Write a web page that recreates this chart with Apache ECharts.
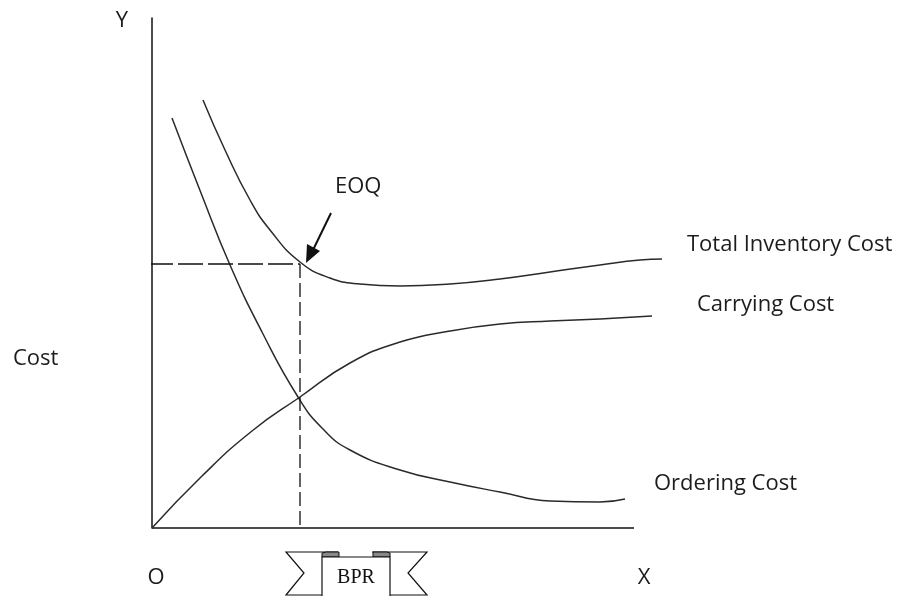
<!DOCTYPE html>
<html><head><meta charset="utf-8">
<script src="https://cdn.jsdelivr.net/npm/echarts@6/dist/echarts.min.js"></script>
<style>html,body{margin:0;padding:0;background:#fff}#c{width:904px;height:596px}</style>
</head><body><div id="c"></div>
<script>
const totalCost = [[51,428],[73,378],[98,328],[118,298],[148,266],[178,250],[208,244],[248,242],[298,244],[348,249],[398,256],[448,263],[488,268],[510,269]];
const orderingCost = [[20,410],[49,335],[78,263],[110,196],[146,131],[170,100],[198,78],[248,58],[298,46],[348,36],[398,27],[448,26],[473,29]];
const carryingCost = [[0,0],[50,52],[100,97],[148,131],[198,165],[248,186],[298,197],[348,204],[398,207],[448,209],[500,212]];
const xAxisEnd = 482;
const eoqX = 148, eoqY = 264;
const labels = {total:'Total Inventory Cost', carrying:'Carrying Cost', ordering:'Ordering Cost'};

const chart = echarts.init(document.getElementById('c'));
const font = '22px "Open Sans", "Noto Sans", sans-serif';
const fill = '#1c1c1c';
const lineStyle = {color:'#2a2a2a', width:1.5};
const mk = (data) => ({type:'line', data, smooth:true, showSymbol:false, clip:false, lineStyle, silent:true});
const txt = (t, x, y, align) => ({type:'text', x, y, style:{text:t, font, fill, textAlign:align||'left', textVerticalAlign:'middle'}});
chart.setOption({
  animation:false,
  grid:{left:152, top:18, width:510, height:510},
  xAxis:{type:'value', min:0, max:510, axisLine:{show:false}, axisTick:{show:false}, axisLabel:{show:false}, splitLine:{show:false}},
  yAxis:{type:'value', min:0, max:510, axisLine:{show:true, lineStyle:{color:'#111', width:1.5}}, axisTick:{show:false}, axisLabel:{show:false}, splitLine:{show:false}},
  series:[
    {type:'line', data:[[0,0],[xAxisEnd,0]], showSymbol:false, clip:false, lineStyle:{color:'#111', width:1.5}, silent:true},
    mk(totalCost), mk(carryingCost), mk(orderingCost),
    {type:'line', data:[[-4,eoqY],[eoqX,eoqY]], showSymbol:false, clip:false, lineStyle:{color:'#111', width:1.3, type:[25,5]}},
    {type:'line', data:[[eoqX,eoqY],[eoqX,0]], showSymbol:false, clip:false, lineStyle:{color:'#111', width:1.3, type:[14,5]}}
  ],
  graphic:[
    txt('Y', 122, 21, 'center'),
    txt('O', 156, 578, 'center'),
    txt('X', 644, 578, 'center'),
    txt('Cost', 13, 359),
    txt('EOQ', 335, 187),
    txt(labels.total, 687, 245),
    txt(labels.carrying, 697, 305),
    txt(labels.ordering, 654, 484),
    {type:'line', shape:{x1:331, y1:213, x2:313, y2:250}, style:{stroke:'#111', lineWidth:2}},
    {type:'polygon', shape:{points:[[306,263],[307,244],[320,251]]}, style:{fill:'#111'}},
    {type:'polyline', shape:{points:[[338,552],[286,552],[304,573],[286,595],[338,595]]}, style:{stroke:'#111', fill:'#fff', lineWidth:1.2}},
    {type:'polyline', shape:{points:[[372,552],[427,552],[408,573],[427,595],[372,595]]}, style:{stroke:'#111', fill:'#fff', lineWidth:1.2}},
    {type:'polygon', shape:{points:[[322,557],[322,553],[326,552],[339,552],[339,557]]}, style:{stroke:'#111', fill:'#888', lineWidth:1}},
    {type:'polygon', shape:{points:[[373,557],[373,552],[387,552],[390,553],[390,557]]}, style:{stroke:'#111', fill:'#888', lineWidth:1}},
    {type:'polyline', shape:{points:[[322,600],[322,557],[390,557],[390,600]]}, style:{stroke:'#111', fill:'#fff', lineWidth:1.2}},
    {type:'text', x:356, y:578, style:{text:'BPR', font:'20px "Liberation Serif", serif', fill:'#111', textAlign:'center', textVerticalAlign:'middle'}}
  ]
});
</script></body></html>
